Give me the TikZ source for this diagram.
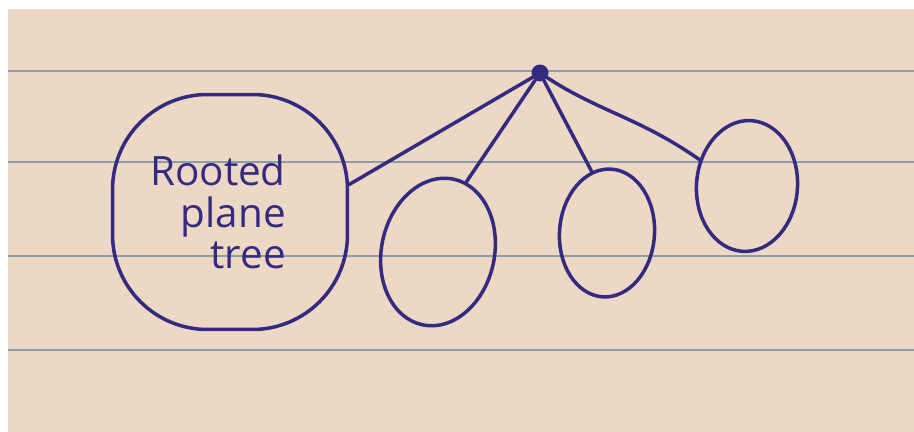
\documentclass[tikz,border=0pt]{standalone}
\usepackage{fontspec}
\setmainfont{Open Sans}
\definecolor{InkBlue}{RGB}{52,42,128}
\definecolor{PaperTone}{RGB}{236,216,196}
\definecolor{RuleBlue}{RGB}{138,158,168}
\usetikzlibrary{positioning, shapes.geometric, calc}

\begin{document}
\begin{tikzpicture}[x=0.02cm, y=-0.02cm,
    ink/.style={draw=InkBlue, line width=2pt, line cap=round, line join=round},
    rootdot/.style={circle, fill=InkBlue, minimum size=0.34cm, inner sep=0pt},
    subtree/.style={ink, ellipse, inner sep=0pt}]
          % paper and ruled lines
          \useasboundingbox (0,0) rectangle (914,432);
          \fill[white] (0,0) rectangle (914,432);
          \fill[PaperTone] (8,9) rectangle (914,432);
          \foreach \yy in {71,162,256,350}
            \draw[RuleBlue, line width=1.2pt] (8,\yy) -- (914,\yy);

          \node[rootdot] (root) at (540,73) {};
          \node[ink, rectangle, rounded corners=1.9cm, minimum width=4.7cm, minimum height=4.7cm] (tree) at (230,212) {};
          \node[align=right, font=\fontsize{23}{23.5}\selectfont, text=InkBlue, inner sep=0pt] (label) at (218,212)
                {Rooted\\plane\\tree};
          \node[subtree, minimum width=2.26cm, minimum height=2.98cm, rotate=-12] (left) at (438,252) {};
          \node[subtree, minimum width=1.9cm, minimum height=2.56cm, rotate=-4] (mid) at (607,233) {};
          \node[subtree, minimum width=2.02cm, minimum height=2.62cm, rotate=-4] (right) at (747,186) {};

          \draw[ink] (root) -- (tree.13);
          \draw[ink] (root) -- (left.80);
          \draw[ink] (root) -- (mid.108);
          \draw[ink] (root) .. controls (600,112) and (640,118) .. (right.155);
        \end{tikzpicture}
\end{document}
